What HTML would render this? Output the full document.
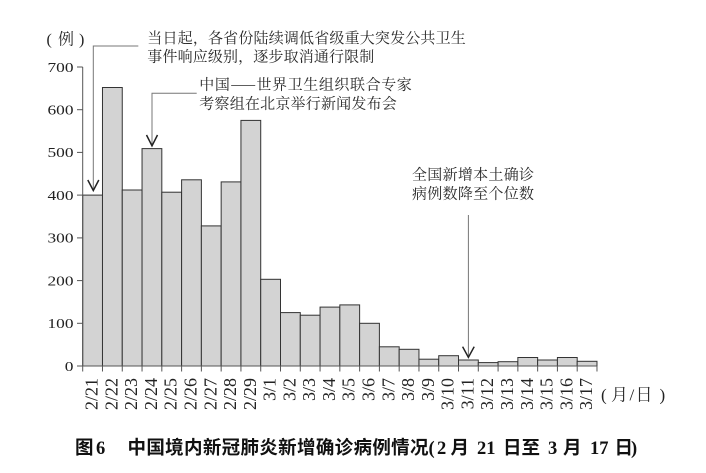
<!DOCTYPE html>
<html>
<head>
<meta charset="utf-8">
<style>
  html,body{margin:0;padding:0;background:#fff;}
  svg{display:block;}
  .num{font-family:"Liberation Serif",serif;fill:#222;}
  .cjk{font-family:"Noto Serif CJK SC","Liberation Serif",serif;fill:#2a2a2a;}
  .tt{font-family:"Noto Sans CJK SC","Liberation Sans",sans-serif;font-weight:bold;fill:#111;}
  .ttn{font-family:"Liberation Serif",serif;font-weight:bold;fill:#111;}
</style>
</head>
<body>
<svg width="706" height="473" viewBox="0 0 706 473" xmlns="http://www.w3.org/2000/svg">
  <rect width="706" height="473" fill="#fff"/>

  <!-- bars -->
  <g fill="#d3d3d3" stroke="#333" stroke-width="1">
    <rect x="82.70" y="195.1" width="19.78" height="170.9"/>
    <rect x="102.48" y="87.5" width="19.78" height="278.5"/>
    <rect x="122.26" y="190.0" width="19.78" height="176.0"/>
    <rect x="142.04" y="148.6" width="19.78" height="217.4"/>
    <rect x="161.82" y="192.2" width="19.78" height="173.8"/>
    <rect x="181.60" y="179.8" width="19.78" height="186.2"/>
    <rect x="201.38" y="225.9" width="19.78" height="140.1"/>
    <rect x="221.16" y="181.9" width="19.78" height="184.1"/>
    <rect x="240.94" y="120.4" width="19.78" height="245.6"/>
    <rect x="260.72" y="279.3" width="19.78" height="86.7"/>
    <rect x="280.50" y="312.6" width="19.78" height="53.4"/>
    <rect x="300.28" y="315.2" width="19.78" height="50.8"/>
    <rect x="320.06" y="307.1" width="19.78" height="58.9"/>
    <rect x="339.84" y="304.9" width="19.78" height="61.1"/>
    <rect x="359.62" y="323.3" width="19.78" height="42.7"/>
    <rect x="379.40" y="346.8" width="19.78" height="19.2"/>
    <rect x="399.18" y="349.3" width="19.78" height="16.7"/>
    <rect x="418.96" y="359.2" width="19.78" height="6.8"/>
    <rect x="438.74" y="355.7" width="19.78" height="10.3"/>
    <rect x="458.52" y="360.0" width="19.78" height="6.0"/>
    <rect x="478.30" y="362.6" width="19.78" height="3.4"/>
    <rect x="498.08" y="361.7" width="19.78" height="4.3"/>
    <rect x="517.86" y="357.5" width="19.78" height="8.5"/>
    <rect x="537.64" y="360.0" width="19.78" height="6.0"/>
    <rect x="557.42" y="357.5" width="19.78" height="8.5"/>
    <rect x="577.20" y="361.3" width="19.78" height="4.7"/>
  </g>

  <!-- axes -->
  <g stroke="#555" stroke-width="1" fill="none">
    <line x1="82.7" y1="67" x2="82.7" y2="366"/>
    <line x1="77" y1="366" x2="597" y2="366"/>
    <line x1="77" y1="323.3" x2="82.7" y2="323.3"/>
    <line x1="77" y1="280.6" x2="82.7" y2="280.6"/>
    <line x1="77" y1="237.9" x2="82.7" y2="237.9"/>
    <line x1="77" y1="195.1" x2="82.7" y2="195.1"/>
    <line x1="77" y1="152.4" x2="82.7" y2="152.4"/>
    <line x1="77" y1="109.7" x2="82.7" y2="109.7"/>
    <line x1="77" y1="67" x2="82.7" y2="67"/>
  </g>
  <g stroke="#555" stroke-width="1">
    <line x1="82.70" y1="366" x2="82.70" y2="371.5"/>
    <line x1="102.48" y1="366" x2="102.48" y2="371.5"/>
    <line x1="122.26" y1="366" x2="122.26" y2="371.5"/>
    <line x1="142.04" y1="366" x2="142.04" y2="371.5"/>
    <line x1="161.82" y1="366" x2="161.82" y2="371.5"/>
    <line x1="181.60" y1="366" x2="181.60" y2="371.5"/>
    <line x1="201.38" y1="366" x2="201.38" y2="371.5"/>
    <line x1="221.16" y1="366" x2="221.16" y2="371.5"/>
    <line x1="240.94" y1="366" x2="240.94" y2="371.5"/>
    <line x1="260.72" y1="366" x2="260.72" y2="371.5"/>
    <line x1="280.50" y1="366" x2="280.50" y2="371.5"/>
    <line x1="300.28" y1="366" x2="300.28" y2="371.5"/>
    <line x1="320.06" y1="366" x2="320.06" y2="371.5"/>
    <line x1="339.84" y1="366" x2="339.84" y2="371.5"/>
    <line x1="359.62" y1="366" x2="359.62" y2="371.5"/>
    <line x1="379.40" y1="366" x2="379.40" y2="371.5"/>
    <line x1="399.18" y1="366" x2="399.18" y2="371.5"/>
    <line x1="418.96" y1="366" x2="418.96" y2="371.5"/>
    <line x1="438.74" y1="366" x2="438.74" y2="371.5"/>
    <line x1="458.52" y1="366" x2="458.52" y2="371.5"/>
    <line x1="478.30" y1="366" x2="478.30" y2="371.5"/>
    <line x1="498.08" y1="366" x2="498.08" y2="371.5"/>
    <line x1="517.86" y1="366" x2="517.86" y2="371.5"/>
    <line x1="537.64" y1="366" x2="537.64" y2="371.5"/>
    <line x1="557.42" y1="366" x2="557.42" y2="371.5"/>
    <line x1="577.20" y1="366" x2="577.20" y2="371.5"/>
    <line x1="596.98" y1="366" x2="596.98" y2="371.5"/>
  </g>

  <!-- y tick labels -->
  <g class="num" font-size="13.5" text-anchor="end" lengthAdjust="spacingAndGlyphs">
    <text x="73.5" y="370.8" textLength="8.7" lengthAdjust="spacingAndGlyphs">0</text>
    <text x="73.5" y="328.1" textLength="26" lengthAdjust="spacingAndGlyphs">100</text>
    <text x="73.5" y="285.4" textLength="26" lengthAdjust="spacingAndGlyphs">200</text>
    <text x="73.5" y="242.7" textLength="26" lengthAdjust="spacingAndGlyphs">300</text>
    <text x="73.5" y="199.9" textLength="26" lengthAdjust="spacingAndGlyphs">400</text>
    <text x="73.5" y="157.2" textLength="26" lengthAdjust="spacingAndGlyphs">500</text>
    <text x="73.5" y="114.5" textLength="26" lengthAdjust="spacingAndGlyphs">600</text>
    <text x="73.5" y="71.8" textLength="26" lengthAdjust="spacingAndGlyphs">700</text>
  </g>

  <!-- x labels -->
  <g class="num" font-size="18" text-anchor="end">
    <text transform="translate(97.6,378) rotate(-90)">2/21</text>
    <text transform="translate(117.4,378) rotate(-90)">2/22</text>
    <text transform="translate(137.2,378) rotate(-90)">2/23</text>
    <text transform="translate(156.9,378) rotate(-90)">2/24</text>
    <text transform="translate(176.7,378) rotate(-90)">2/25</text>
    <text transform="translate(196.5,378) rotate(-90)">2/26</text>
    <text transform="translate(216.3,378) rotate(-90)">2/27</text>
    <text transform="translate(236.1,378) rotate(-90)">2/28</text>
    <text transform="translate(255.8,378) rotate(-90)">2/29</text>
    <text transform="translate(275.6,378) rotate(-90)">3/1</text>
    <text transform="translate(295.4,378) rotate(-90)">3/2</text>
    <text transform="translate(315.2,378) rotate(-90)">3/3</text>
    <text transform="translate(335.0,378) rotate(-90)">3/4</text>
    <text transform="translate(354.7,378) rotate(-90)">3/5</text>
    <text transform="translate(374.5,378) rotate(-90)">3/6</text>
    <text transform="translate(394.3,378) rotate(-90)">3/7</text>
    <text transform="translate(414.1,378) rotate(-90)">3/8</text>
    <text transform="translate(433.9,378) rotate(-90)">3/9</text>
    <text transform="translate(453.6,378) rotate(-90)">3/10</text>
    <text transform="translate(473.4,378) rotate(-90)">3/11</text>
    <text transform="translate(493.2,378) rotate(-90)">3/12</text>
    <text transform="translate(513.0,378) rotate(-90)">3/13</text>
    <text transform="translate(532.8,378) rotate(-90)">3/14</text>
    <text transform="translate(552.5,378) rotate(-90)">3/15</text>
    <text transform="translate(572.3,378) rotate(-90)">3/16</text>
    <text transform="translate(592.1,378) rotate(-90)">3/17</text>
  </g>

  <!-- unit labels -->
  <text class="num" font-size="16" x="46.5" y="44.4">(</text>
  <text class="cjk" font-size="16" x="58" y="44.4">例</text>
  <text class="num" font-size="16" x="79" y="44.4">)</text>

  <text class="num" font-size="17" x="601" y="400.5">(</text>
  <text class="cjk" font-size="17" x="611" y="400.5">月</text>
  <text class="num" font-size="17" x="629.5" y="400.5">/</text>
  <text class="cjk" font-size="17" x="635.5" y="400.5">日</text>
  <text class="num" font-size="17" x="659.5" y="400.5">)</text>

  <!-- annotation lines -->
  <g stroke="#777" stroke-width="1" fill="none">
    <polyline points="138.3,46 93.3,46 93.3,189"/>
    <polyline points="196.7,93.3 152,93.3 152,145"/>
    <line x1="468.4" y1="215" x2="468.4" y2="357"/>
  </g>
  <g stroke="#222" stroke-width="1.5" fill="none">
    <polyline points="87.8,180 93.3,190.5 98.8,180"/>
    <polyline points="146.5,135 152,145.8 157.5,135"/>
    <polyline points="462.6,346.7 468.4,357.3 474.2,346.7"/>
  </g>

  <!-- annotations -->
  <g class="cjk" font-size="15">
    <text x="147.3" y="43" textLength="318.5">当日起，各省份陆续调低省级重大突发公共卫生</text>
    <text x="147.3" y="61.5" textLength="227">事件响应级别，逐步取消通行限制</text>
    <text x="199.3" y="89.5" textLength="212.5">中国——世界卫生组织联合专家</text>
    <text x="199.3" y="108.5" textLength="197.5">考察组在北京举行新闻发布会</text>
    <text x="412" y="179.5" textLength="122">全国新增本土确诊</text>
    <text x="412" y="198.5" textLength="122">病例数降至个位数</text>
  </g>

  <!-- title -->
  <text class="tt" font-size="18.5" x="75" y="454">图</text>
  <text class="ttn" font-size="18.5" x="96" y="454">6</text>
  <text class="tt" font-size="18.5" x="127.5" y="454" textLength="301">中国境内新冠肺炎新增确诊病例情况</text>
  <text class="ttn" font-size="18.5" x="428.5" y="454">(</text>
  <text class="ttn" font-size="18.5" x="437" y="454">2</text>
  <text class="tt" font-size="18.5" x="450.5" y="454">月</text>
  <text class="ttn" font-size="18.5" x="477" y="454">21</text>
  <text class="tt" font-size="18.5" x="503" y="454">日</text>
  <text class="tt" font-size="18.5" x="521.5" y="454">至</text>
  <text class="ttn" font-size="18.5" x="548" y="454">3</text>
  <text class="tt" font-size="18.5" x="563" y="454">月</text>
  <text class="ttn" font-size="18.5" x="590" y="454">17</text>
  <text class="tt" font-size="18.5" x="614.5" y="454">日</text>
  <text class="ttn" font-size="18.5" x="631" y="454">)</text>
</svg>
</body>
</html>
